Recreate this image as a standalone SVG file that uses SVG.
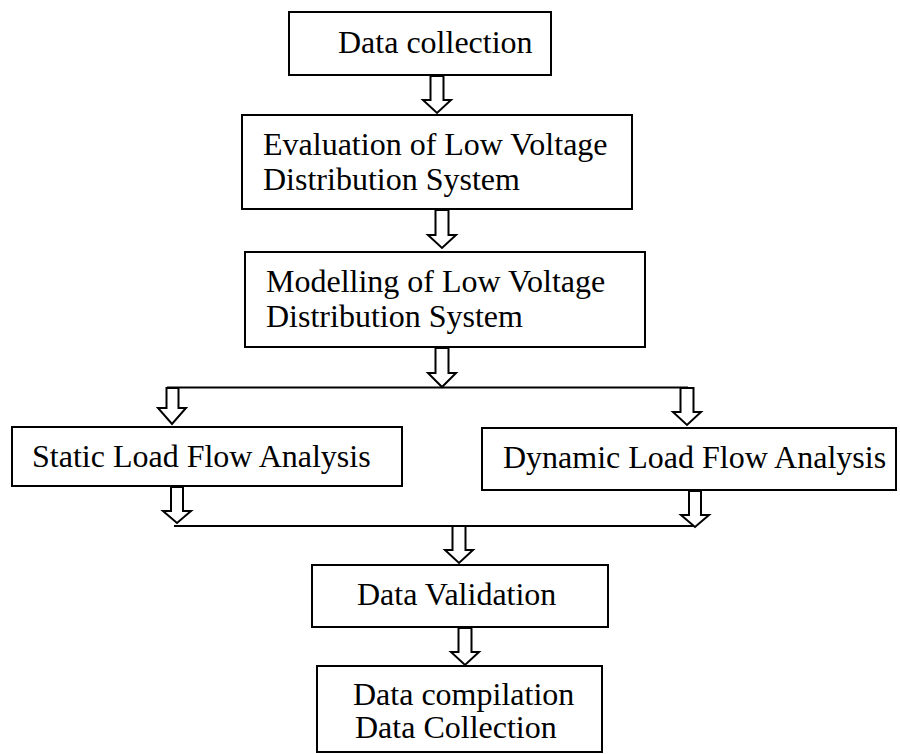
<svg xmlns="http://www.w3.org/2000/svg" width="900" height="754" viewBox="0 0 900 754">
<style>
.box{fill:#fff;stroke:#000;stroke-width:2}
.t{font-family:"Liberation Serif","Times New Roman",serif;font-size:32px;fill:#000}
.arr{fill:#fff;stroke:#000;stroke-width:2;stroke-linejoin:miter}
.ln{stroke:#000;stroke-width:1.8;fill:none}
</style>
<rect width="900" height="754" fill="#fff"/>
<g id="connectors">
<line class="ln" x1="167" y1="387.5" x2="688" y2="387.5"/>
<line class="ln" x1="174" y1="526" x2="694" y2="526"/>
<path class="arr" d="M430.5,76 V100 H423 L437,113 L451,100 H443.5 V76 Z"/>
<path class="arr" d="M435.5,210 V235 H428 L442,248 L456,235 H448.5 V210 Z"/>
<path class="arr" d="M435.5,348 V373 H428 L442,387 L456,373 H448.5 V348 Z"/>
<path class="arr" d="M166.5,388 V408 H158 L172,424 L186,408 H178.5 V388 Z"/>
<path class="arr" d="M680.5,388 V412 H673 L687,425 L701,412 H693.5 V388 Z"/>
<path class="arr" d="M171,487 V511 H163 L177,523 L191,511 H183 V487 Z"/>
<path class="arr" d="M689,491 V515 H681 L695,527 L709,515 H701 V491 Z"/>
<path class="arr" d="M452.5,526 V550 H445 L459,563 L473,550 H465.5 V526 Z"/>
<path class="arr" d="M458.5,628 V652 H451 L465,665 L479,652 H471.5 V628 Z"/>
</g>
<g id="data-collection">
<rect class="box" x="289" y="12" width="262" height="63"/>
<text class="t" x="338" y="53">Data collection</text>
</g>
<g id="evaluation">
<rect class="box" x="242" y="115" width="390" height="94"/>
<text class="t" x="263" y="155">Evaluation of Low Voltage</text>
<text class="t" x="263" y="190">Distribution System</text>
</g>
<g id="modelling">
<rect class="box" x="245" y="252" width="400" height="95"/>
<text class="t" x="266" y="292">Modelling of Low Voltage</text>
<text class="t" x="266" y="327">Distribution System</text>
</g>
<g id="static">
<rect class="box" x="12" y="427" width="390" height="59"/>
<text class="t" x="32" y="467">Static Load Flow Analysis</text>
</g>
<g id="dynamic">
<rect class="box" x="482" y="428" width="414" height="62"/>
<text class="t" x="503" y="468">Dynamic Load Flow Analysis</text>
</g>
<g id="validation">
<rect class="box" x="312" y="565" width="296" height="62"/>
<text class="t" x="357" y="605">Data Validation</text>
</g>
<g id="compilation">
<rect class="box" x="317" y="666" width="285" height="86"/>
<text class="t" x="353" y="705">Data compilation</text>
<text class="t" x="355" y="738">Data Collection</text>
</g>
</svg>
